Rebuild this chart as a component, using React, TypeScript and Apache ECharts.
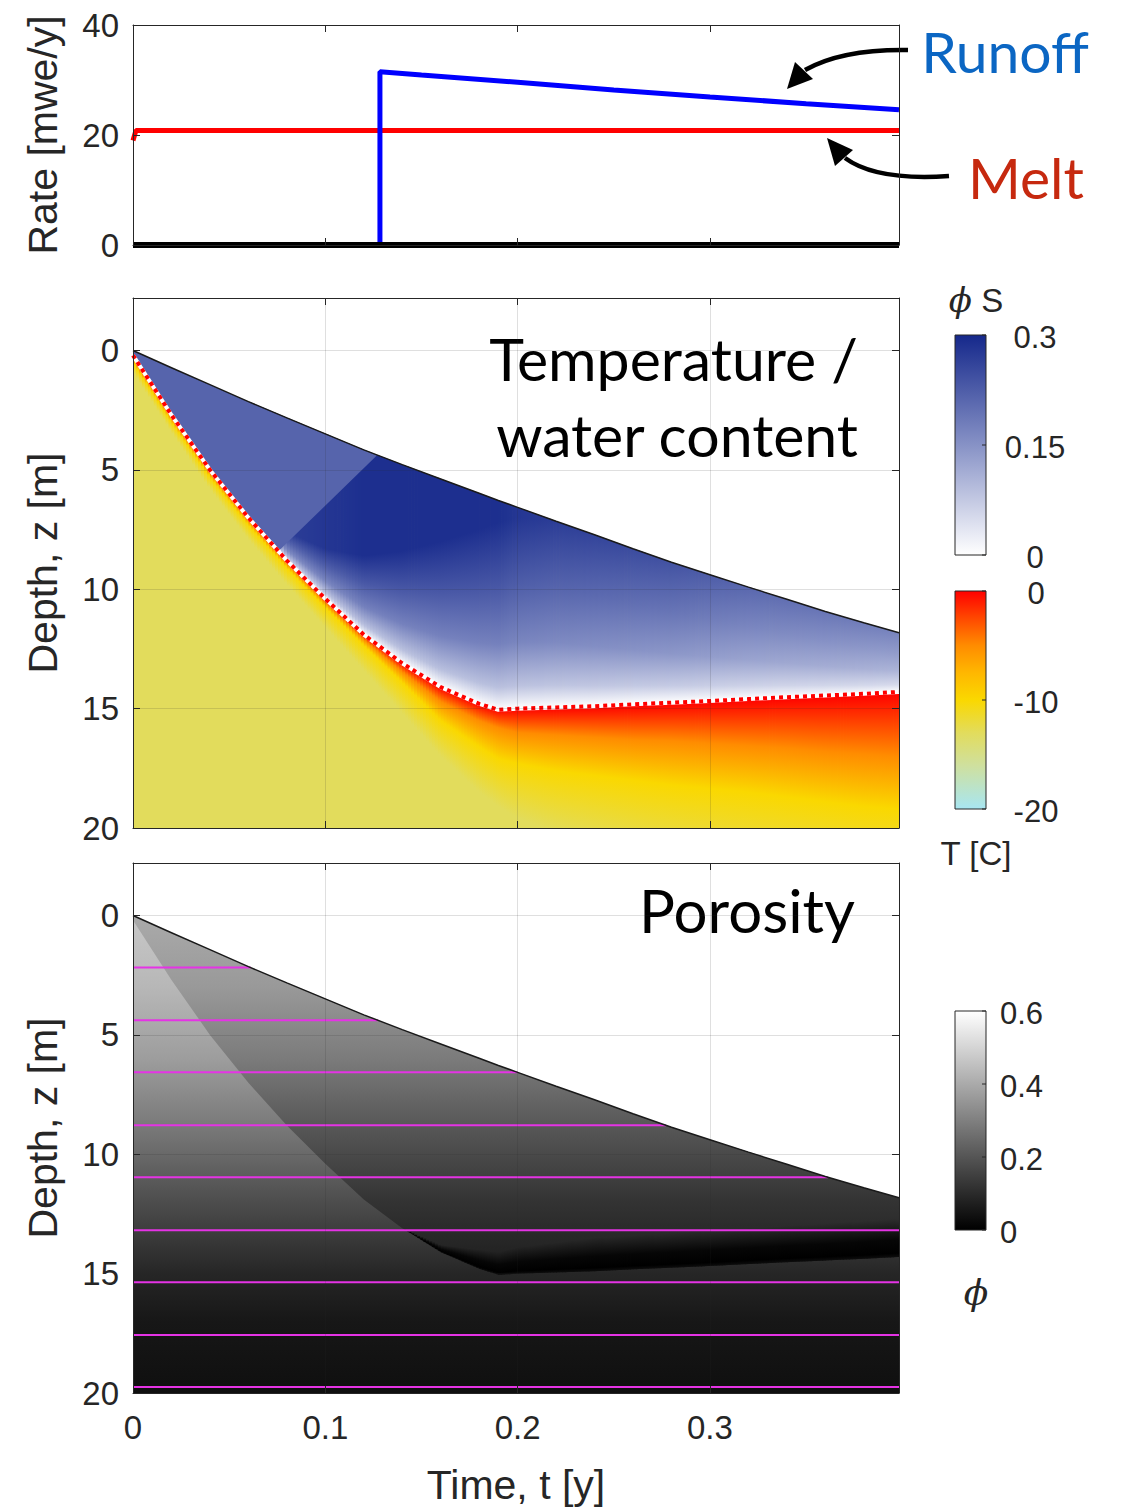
import React, { useEffect, useRef } from "react";
import * as echarts from "echarts";

// ---------- axes ----------
const T_END = 0.3983;
const TIME_TICKS = [0, 0.1, 0.2, 0.3];
const RATE_TICKS = [0, 20, 40];
const DEPTH_TICKS = [0, 5, 10, 15, 20];
const DEPTH_MIN = -2.2;
const DEPTH_MAX = 20;

// ---------- top panel: surface rates [mwe/y] ----------
const runoffTime = [0, 0.1284, 0.1284, 0.15, 0.2, 0.25, 0.3, 0.35, 0.3983];
const runoffRate = [0, 0, 31.5, 30.9, 29.6, 28.2, 26.9, 25.7, 24.6];
const meltTime = [0, 0.0015, 0.3983];
const meltRate = [19.0, 20.8, 20.8];
const baseTime = [0, 0.3983];
const baseRate = [0, 0];

// ---------- depth–time fields on a common time base [y] ----------
const sampleTime = [0, 0.02, 0.04, 0.06, 0.08, 0.1, 0.12, 0.14, 0.16, 0.18, 0.19, 0.2, 0.22, 0.24, 0.26, 0.28, 0.3, 0.32, 0.34, 0.36, 0.38, 0.3983];
// snow surface depth [m]
const surfaceDepth = [0, 0.72, 1.43, 2.14, 2.82, 3.49, 4.16, 4.78, 5.38, 5.98, 6.28, 6.57, 7.15, 7.72, 8.3, 8.87, 9.39, 9.91, 10.42, 10.93, 11.4, 11.82];
// wetting front depth [m]
const frontDepth = [0.2, 2.7, 5.0, 7.0, 8.8, 10.4, 11.9, 13.1, 14.1, 14.8, 15.05, 15.0, 14.95, 14.9, 14.82, 14.75, 14.68, 14.6, 14.52, 14.45, 14.38, 14.3];
// water content phi*S just below the surface
const surfaceWater = [0.21, 0.21, 0.21, 0.21, 0.27, 0.28, 0.29, 0.29, 0.29, 0.29, 0.29, 0.28, 0.27, 0.26, 0.25, 0.24, 0.225, 0.21, 0.2, 0.19, 0.18, 0.17];
// depth where the water content starts to drop towards the wetting front [m]
const drainDepth = [0, 1.2, 3.4, 5.4, 7.6, 8.3, 8.6, 8.4, 8.0, 7.5, 7.2, 7.0, 7.15, 7.72, 8.3, 8.87, 9.39, 9.91, 10.42, 10.93, 11.4, 11.82];
// relative water content from the drain depth (0) to the wetting front (1)
const waterProfile: [number, number][] = [[0, 1], [0.35, 0.8], [0.65, 0.6], [0.88, 0.3], [1, 0]];
// upward-moving saturation front, ends at the surface when runoff starts
const saturationTime = [0.0757, 0.0868, 0.1269];
const saturationDepth = [8.4, 7.53, 4.39];
const partialWater = 0.215;
// isotherm depths below the wetting front [m]
const isotherm5Depth = [0.32, 2.82, 5.12, 7.12, 8.92, 10.55, 12.1, 13.45, 14.7, 15.5, 15.8, 16.0, 16.1, 16.2, 16.3, 16.35, 16.45, 16.55, 16.65, 16.8, 16.9, 17.0];
const isotherm10Depth = [0.5, 3.0, 5.3, 7.3, 9.1, 10.75, 12.35, 13.9, 15.5, 16.6, 17.1, 17.3, 17.6, 17.8, 18.0, 18.2, 18.35, 18.5, 18.7, 18.9, 19.1, 19.2];
const isotherm13Depth = [0.9, 3.4, 5.8, 7.9, 9.8, 11.6, 13.4, 15.2, 17.0, 18.5, 19.1, 19.6, 20.2, 20.6, 21.0, 21.3, 21.6, 21.9, 22.1, 22.3, 22.5, 22.6];
const initialTemp = -13;

// porosity vs depth, dry firn and firn behind the wetting front
const porosityDepth = [0, 3, 6, 9, 12, 15, 17, 20];
const porosityDry = [0.47, 0.43, 0.37, 0.28, 0.18, 0.09, 0.055, 0.035];
const porosityWet = [0.4, 0.36, 0.29, 0.2, 0.12, 0.065, 0.045, 0.03];
// top of the refrozen (near-zero porosity) band above the stalled front
const refrozenTopDepth: (number | null)[] = [null, null, null, null, null, null, null, 13.1, 13.8, 14.0, 14.1, 13.9, 13.7, 13.5, 13.4, 13.3, 13.2, 13.1, 13.0, 12.9, 12.8, 12.7];
// tracer layers [m]
const layerDepth = [2.18, 4.39, 6.57, 8.79, 10.96, 13.18, 15.36, 17.57, 19.75];

// colour bar ticks
const waterTicks = [0, 0.15, 0.3];
const tempTicks = [0, -10, -20];
const porosityTicks = [0, 0.2, 0.4, 0.6];

// ---------- colour maps ----------
type CMap = [number, string][];
const waterMap: CMap = [[0, "#ffffff"], [0.15, "#8792c6"], [0.3, "#15288b"]];
const tempMap: CMap = [[-20, "#a8e6f2"], [-16, "#cfe09e"], [-13, "#e2dc5c"], [-10, "#fad800"], [-7.5, "#ffb700"], [-5, "#ff8c00"], [-2.5, "#ff4800"], [0, "#ff0000"]];
const grayMap: CMap = [[0, "#000000"], [0.6, "#ffffff"]];

const hexRgb = (h: string) => {
  const n = parseInt(h.slice(1), 16);
  return [(n >> 16) & 255, (n >> 8) & 255, n & 255];
};
const lerp = (a: number, b: number, u: number) => a + (b - a) * u;
function cmap(map: CMap, v: number) {
  if (v <= map[0][0]) return map[0][1];
  if (v >= map[map.length - 1][0]) return map[map.length - 1][1];
  for (let i = 0; i < map.length - 1; i++) {
    const [v0, c0] = map[i];
    const [v1, c1] = map[i + 1];
    if (v >= v0 && v <= v1) {
      const u = (v - v0) / (v1 - v0);
      const a = hexRgb(c0), b = hexRgb(c1);
      return `rgb(${Math.round(lerp(a[0], b[0], u))},${Math.round(lerp(a[1], b[1], u))},${Math.round(lerp(a[2], b[2], u))})`;
    }
  }
  return map[0][1];
}
function interp(xs: number[], ys: number[], x: number) {
  if (x <= xs[0]) return ys[0];
  for (let i = 0; i < xs.length - 1; i++) {
    if (x <= xs[i + 1]) return lerp(ys[i], ys[i + 1], (x - xs[i]) / (xs[i + 1] - xs[i]));
  }
  return ys[ys.length - 1];
}
const clamp01 = (v: number) => Math.max(0, Math.min(1, v));

// ---------- layout / style ----------
const GRIDS = [
  { left: 133, top: 25, width: 766, height: 220 },
  { left: 133, top: 298, width: 766, height: 530 },
  { left: 133, top: 863, width: 766, height: 530 },
];
const INK = "#262626";
const AXIS_FONT = "Liberation Sans";
const TITLE_FONT = "Lato";

// vertical strips between two depth curves, each with its own vertical gradient
function stripSeries(name: string, grid: number, from: number, top: (number | null)[], bottom: number[],
  fill: (i: number, u: number, api: any, x: number) => any) {
  const items: number[][] = [];
  for (let i = from; i < sampleTime.length - 1; i++) {
    if (top[i] != null && top[i + 1] != null) items.push([sampleTime[i], top[i] as number, i]);
  }
  return {
    type: "custom", name, xAxisIndex: grid * 2, yAxisIndex: grid * 2, silent: true,
    data: items,
    renderItem: (params: any, api: any) => {
      const i = items[params.dataIndex][2];
      const t0 = sampleTime[i], t1 = sampleTime[i + 1];
      const a0 = top[i] as number, a1 = top[i + 1] as number;
      const b0 = bottom[i], b1 = bottom[i + 1];
      const xa = api.coord([t0, 0])[0], xb = api.coord([t1, 0])[0];
      const n = Math.max(1, Math.ceil((xb - xa) / 3));
      const children: any[] = [];
      for (let k = 0; k < n; k++) {
        const u0 = k / n, u1 = (k + 1) / n, um = (u0 + u1) / 2;
        const ta = lerp(t0, t1, u0), tb = lerp(t0, t1, u1);
        const p1 = api.coord([ta, lerp(a0, a1, u0)]);
        const p2 = api.coord([tb, lerp(a0, a1, u1)]);
        const p3 = api.coord([tb, lerp(b0, b1, u1)]);
        const p4 = api.coord([ta, lerp(b0, b1, u0)]);
        const last = i + 1 === sampleTime.length - 1 && k === n - 1;
        if (!last) { p2[0] += 0.8; p3[0] += 0.8; }
        children.push({
          type: "polygon",
          shape: { points: [p1, p2, p3, p4] },
          style: { fill: fill(i, um, api, (p1[0] + p2[0]) / 2) },
        });
      }
      return { type: "group", children };
    },
  };
}

function polygonSeries(name: string, grid: number, pts: [number, number][], fill: (api: any) => any) {
  return {
    type: "custom", name, xAxisIndex: grid * 2, yAxisIndex: grid * 2, silent: true,
    data: [[pts[0][0], pts[0][1]]],
    renderItem: (_p: any, api: any) => ({
      type: "polygon",
      shape: { points: pts.map((p) => api.coord(p)) },
      style: { fill: fill(api) },
    }),
  };
}

const depthGradient = (api: any, depths: number[], values: number[]) => {
  const y0 = api.coord([0, 0])[1];
  const y1 = api.coord([0, 20])[1];
  return new echarts.graphic.LinearGradient(0, y0, 0, y1,
    depths.map((d, k) => ({ offset: d / 20, color: cmap(grayMap, values[k]) })), true);
};

function lineSeries(name: string, grid: number, xs: number[], ys: number[], color: string, width: number, extra: any = {}) {
  return {
    type: "line", name, xAxisIndex: grid * 2, yAxisIndex: grid * 2, silent: true,
    data: xs.map((x, i) => [x, ys[i]]),
    showSymbol: false, symbol: "none",
    lineStyle: { color, width, ...extra },
    z: 4,
  };
}

function buildOption() {
  const surfacePts: [number, number][] = sampleTime.map((t, i) => [t, surfaceDepth[i]]);
  const belowSurface: [number, number][] = [...surfacePts, [T_END, DEPTH_MAX], [0, DEPTH_MAX]];
  const wetPts: [number, number][] = [...surfacePts, ...sampleTime.map((t, i) => [t, frontDepth[i]] as [number, number]).reverse()];
  const tSat = saturationTime[saturationTime.length - 1];
  const wedgePts: [number, number][] = [
    ...sampleTime.filter((t) => t < tSat).map((t) => [t, interp(sampleTime, surfaceDepth, t)] as [number, number]),
    ...saturationTime.map((t, k) => [t, saturationDepth[k]] as [number, number]).reverse(),
    ...sampleTime.filter((t) => t < saturationTime[0]).map((t) => [t, interp(sampleTime, frontDepth, t)] as [number, number]).reverse(),
  ];

  const gridLine = { show: true, lineStyle: { color: "rgba(38,38,38,0.15)", width: 1 } };
  const tick = (vals: number[]) => ({ show: true, inside: true, length: 7, customValues: vals, lineStyle: { color: INK, width: 1 } });
  const axisLine = { show: true, onZero: false, lineStyle: { color: INK, width: 1 } };
  const label = (vals: number[], show: boolean, margin: number) => ({
    show, customValues: vals, color: INK, fontFamily: AXIS_FONT, fontSize: 33, margin,
  });
  const nameStyle = { color: INK, fontFamily: AXIS_FONT, fontSize: 41 };

  const xAxis: any[] = [];
  const yAxis: any[] = [];
  GRIDS.forEach((_, k) => {
    const isLast = k === 2;
    const xBase = { type: "value", gridIndex: k, min: 0, max: T_END, z: 10, axisLine };
    xAxis.push({
      ...xBase, position: "bottom", axisTick: tick(TIME_TICKS), axisLabel: label(TIME_TICKS, isLast, 18),
      splitLine: k > 0 ? gridLine : { show: false },
      name: isLast ? "Time, t [y]" : "", nameLocation: "middle", nameGap: 71, nameTextStyle: nameStyle,
    });
    xAxis.push({ ...xBase, position: "top", axisTick: tick(TIME_TICKS), axisLabel: { show: false }, splitLine: { show: false } });
    const yBase = k === 0
      ? { type: "value", gridIndex: k, min: 0, max: 40, z: 10, axisLine }
      : { type: "value", gridIndex: k, min: DEPTH_MIN, max: DEPTH_MAX, inverse: true, z: 10, axisLine };
    const yTicks = k === 0 ? RATE_TICKS : DEPTH_TICKS;
    yAxis.push({
      ...yBase, position: "left", axisTick: tick(yTicks), axisLabel: label(yTicks, true, 14),
      splitLine: k > 0 ? gridLine : { show: false },
      name: k === 0 ? "Rate [mwe/y]" : "Depth, z [m]", nameLocation: "middle", nameGap: 70, nameTextStyle: nameStyle,
    });
    yAxis.push({ ...yBase, position: "right", axisTick: tick(yTicks), axisLabel: { show: false }, splitLine: { show: false } });
  });

  const series: any[] = [
    // ---- rates ----
    lineSeries("Melt", 0, meltTime, meltRate, "#ff0000", 5),
    lineSeries("Runoff", 0, runoffTime, runoffRate, "#0000ff", 5),
    lineSeries("base", 0, baseTime, baseRate, "#000000", 6),

    // ---- temperature / water content ----
    polygonSeries("cold firn", 1, belowSurface, () => cmap(tempMap, initialTemp)),
    stripSeries("warming", 1, 0, frontDepth, sampleTime.map(() => DEPTH_MAX), (i, u, api, x) => {
      const f = lerp(frontDepth[i], frontDepth[i + 1], u);
      const a = lerp(isotherm5Depth[i], isotherm5Depth[i + 1], u);
      const b = lerp(isotherm10Depth[i], isotherm10Depth[i + 1], u);
      const c = lerp(isotherm13Depth[i], isotherm13Depth[i + 1], u);
      const y0 = api.coord([0, f])[1], y1 = api.coord([0, c])[1];
      return new echarts.graphic.LinearGradient(x, y0, x, Math.max(y1, y0 + 1), [
        { offset: 0, color: cmap(tempMap, 0) },
        { offset: clamp01((a - f) / (c - f)), color: cmap(tempMap, -5) },
        { offset: clamp01((b - f) / (c - f)), color: cmap(tempMap, -10) },
        { offset: 1, color: cmap(tempMap, initialTemp) },
      ], true);
    }),
    stripSeries("water", 1, 3, surfaceDepth, frontDepth, (i, u, api, x) => {
      const s = lerp(surfaceDepth[i], surfaceDepth[i + 1], u);
      const f = lerp(frontDepth[i], frontDepth[i + 1], u);
      const d = lerp(drainDepth[i], drainDepth[i + 1], u);
      const w = lerp(surfaceWater[i], surfaceWater[i + 1], u);
      const y0 = api.coord([0, s])[1], y1 = api.coord([0, f])[1];
      const q = clamp01((d - s) / Math.max(f - s, 1e-6));
      const stops = [{ offset: 0, color: cmap(waterMap, w) }].concat(
        waterProfile.map(([p, m]) => ({ offset: q + p * (1 - q), color: cmap(waterMap, w * m) })));
      return new echarts.graphic.LinearGradient(x, y0, x, Math.max(y1, y0 + 1), stops, true);
    }),
    polygonSeries("partial saturation", 1, wedgePts, () => cmap(waterMap, partialWater)),
    lineSeries("front base", 1, sampleTime, frontDepth, "#ffffff", 4),
    lineSeries("front", 1, sampleTime, frontDepth, "#ff0000", 4, { type: [4, 4] }),
    lineSeries("surface", 1, sampleTime, surfaceDepth, "#1a1a1a", 1.5),

    // ---- porosity ----
    polygonSeries("dry firn", 2, belowSurface, (api) => depthGradient(api, porosityDepth, porosityDry)),
    polygonSeries("wetted firn", 2, wetPts, (api) => depthGradient(api, porosityDepth, porosityWet)),
    stripSeries("refrozen", 2, 0, refrozenTopDepth, frontDepth, (i, u, api, x) => {
      const top = lerp(refrozenTopDepth[i] as number, refrozenTopDepth[i + 1] as number, u);
      const f = lerp(frontDepth[i], frontDepth[i + 1], u);
      const y0 = api.coord([0, top])[1], y1 = api.coord([0, f])[1];
      return new echarts.graphic.LinearGradient(x, y0, x, Math.max(y1, y0 + 1), [
        { offset: 0, color: cmap(grayMap, interp(porosityDepth, porosityWet, top)) },
        { offset: 0.55, color: cmap(grayMap, 0.015) },
        { offset: 0.9, color: cmap(grayMap, 0.0) },
        { offset: 1, color: cmap(grayMap, 0.03) },
      ], true);
    }),
    {
      type: "custom", name: "layers", xAxisIndex: 4, yAxisIndex: 4, silent: true, z: 4,
      data: layerDepth.map((z) => [0, z]),
      renderItem: (params: any, api: any) => {
        const z = layerDepth[params.dataIndex];
        let tEnd = T_END;
        for (let i = 0; i < sampleTime.length - 1; i++) {
          if (surfaceDepth[i] <= z && surfaceDepth[i + 1] >= z) {
            tEnd = lerp(sampleTime[i], sampleTime[i + 1], (z - surfaceDepth[i]) / (surfaceDepth[i + 1] - surfaceDepth[i]));
            break;
          }
        }
        const a = api.coord([0, z]), b = api.coord([tEnd, z]);
        return { type: "line", shape: { x1: a[0], y1: a[1], x2: b[0], y2: b[1] }, style: { stroke: "#e533e5", lineWidth: 2 } };
      },
    },
    lineSeries("surface2", 2, sampleTime, surfaceDepth, "#1a1a1a", 1.5),
  ];

  // ---- colour bars ----
  const BAR_X = 955, BAR_W = 31;
  const bars = [
    { top: 335, h: 220, map: waterMap, min: 0, max: 0.3, ticks: waterTicks, lx: 1035, align: "center" },
    { top: 591, h: 218, map: tempMap, min: -20, max: 0, ticks: tempTicks, lx: 1036, align: "center" },
    { top: 1011, h: 219, map: grayMap, min: 0, max: 0.6, ticks: porosityTicks, lx: 1000, align: "left" },
  ];
  const graphic: any[] = [];
  bars.forEach((b) => {
    graphic.push({
      type: "rect", shape: { x: BAR_X, y: b.top, width: BAR_W, height: b.h },
      style: {
        fill: new echarts.graphic.LinearGradient(0, 0, 0, 1,
          b.map.map(([v, c]) => ({ offset: (b.max - v) / (b.max - b.min), color: c })).sort((p, q) => p.offset - q.offset)),
        stroke: INK, lineWidth: 1,
      },
    });
    b.ticks.forEach((v) => {
      const y = b.top + (b.max - v) / (b.max - b.min) * b.h;
      graphic.push({ type: "line", shape: { x1: BAR_X + BAR_W - 4, y1: y, x2: BAR_X + BAR_W, y2: y }, style: { stroke: INK, lineWidth: 1 } });
      graphic.push({
        type: "text", x: b.lx, y: y + 2,
        style: { text: String(v), fill: INK, fontFamily: AXIS_FONT, fontSize: 31, align: b.align, verticalAlign: "middle" },
      });
    });
  });
  graphic.push(
    {
      type: "text", x: 976, y: 300,
      style: {
        text: "{p|ϕ} S", fill: INK, fontFamily: AXIS_FONT, fontSize: 33, align: "center", verticalAlign: "middle",
        rich: { p: { fontFamily: "DejaVu Serif", fontStyle: "italic", fontSize: 34, fill: INK } },
      },
    },
    { type: "text", x: 976, y: 853, style: { text: "T [C]", fill: INK, fontFamily: AXIS_FONT, fontSize: 33, align: "center", verticalAlign: "middle" } },
    { type: "text", x: 976, y: 1292, style: { text: "ϕ", fill: INK, fontFamily: "DejaVu Serif", fontStyle: "italic", fontSize: 36, align: "center", verticalAlign: "middle" } },
    // panel titles
    { type: "text", x: 858, y: 358, style: { text: "Temperature /", fill: "#000", fontFamily: TITLE_FONT, fontSize: 59, align: "right", verticalAlign: "middle" } },
    { type: "text", x: 858, y: 434, style: { text: "water content", fill: "#000", fontFamily: TITLE_FONT, fontSize: 59, align: "right", verticalAlign: "middle" } },
    { type: "text", x: 855, y: 910, style: { text: "Porosity", fill: "#000", fontFamily: TITLE_FONT, fontSize: 60, align: "right", verticalAlign: "middle" } },
    // annotations
    { type: "text", x: 1089, y: 51, style: { text: "Runoff", fill: "#0b66c3", fontFamily: TITLE_FONT, fontSize: 57, align: "right", verticalAlign: "middle" } },
    { type: "text", x: 1084, y: 177, style: { text: "Melt", fill: "#c6290f", fontFamily: TITLE_FONT, fontSize: 57, align: "right", verticalAlign: "middle" } },
    { type: "bezierCurve", shape: { x1: 908, y1: 50, cpx1: 842, cpy1: 49, x2: 805, y2: 70 }, style: { stroke: "#000", lineWidth: 4.5, fill: null } },
    { type: "polygon", shape: { points: [[787, 89], [795, 62], [813, 79]] }, style: { fill: "#000" } },
    { type: "bezierCurve", shape: { x1: 949, y1: 176, cpx1: 876, cpy1: 181, x2: 845, y2: 158 }, style: { stroke: "#000", lineWidth: 4.5, fill: null } },
    { type: "polygon", shape: { points: [[827, 138], [853, 150], [835, 166]] }, style: { fill: "#000" } },
  );

  return {
    animation: false,
    backgroundColor: "#ffffff",
    grid: GRIDS.map((g) => ({ ...g, outerBoundsMode: "none", show: false })),
    xAxis, yAxis, series, graphic,
  };
}

export default function App() {
  const ref = useRef<HTMLDivElement>(null);
  useEffect(() => {
    const chart = echarts.init(ref.current as HTMLDivElement, null, { renderer: "svg" });
    chart.setOption(buildOption() as any);
    return () => chart.dispose();
  }, []);
  return <div ref={ref} style={{ position: "absolute", left: 0, top: 0, width: 1121, height: 1509, background: "#fff" }} />;
}
